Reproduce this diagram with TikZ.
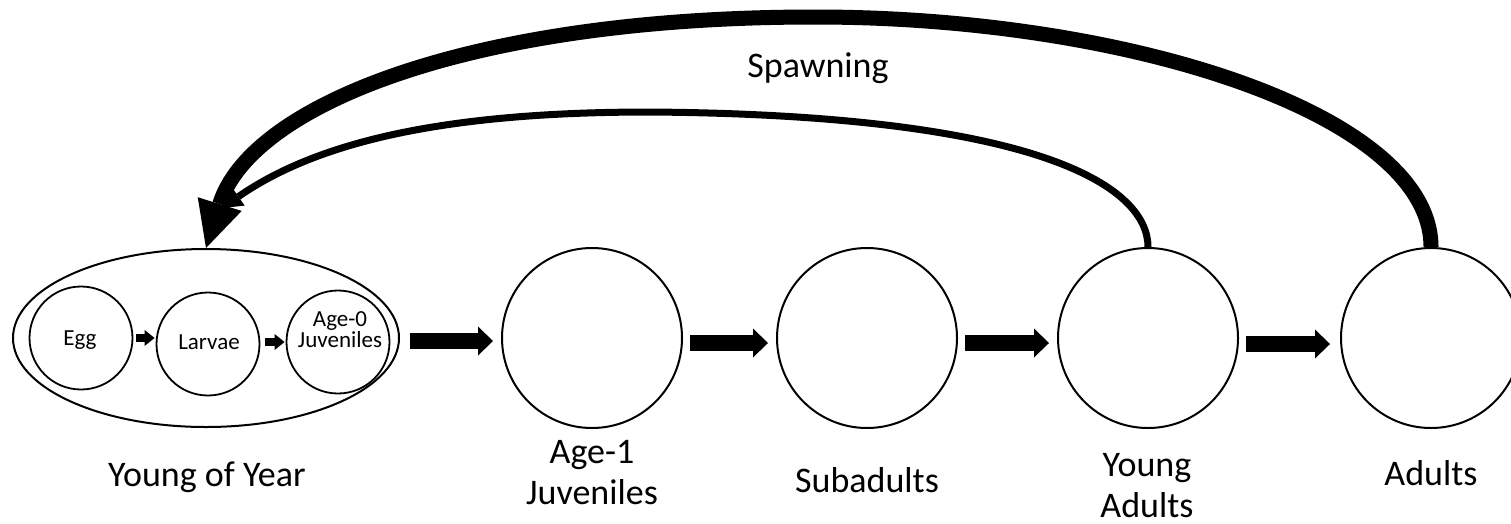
\documentclass[tikz,border=0pt]{standalone}
\usepackage{fontspec}
\setmainfont{Carlito}
\usetikzlibrary{arrows.meta,shapes.geometric}
\begin{document}
\begin{tikzpicture}[x=1pt,y=-1pt,
  stage/.style={circle,draw,line width=2pt,minimum size=180pt,inner sep=0pt},
  substage/.style={circle,draw,line width=1.8pt,minimum size=103pt,inner sep=0pt},
  smalltxt/.style={font=\fontsize{23}{18}\selectfont,align=center,inner sep=0pt,anchor=base},
  lbl/.style={font=\fontsize{36}{41}\selectfont,align=center,inner sep=0pt,anchor=base},
  bigarrow/.style={line width=16pt,-{Triangle[length=15pt,width=29pt,line width=0pt]}},
  smallarrow/.style={line width=8pt,-{Triangle[length=10pt,width=16pt,line width=0pt]}},
  spawnthick/.style={line width=15pt,-{Triangle[length=46pt,width=46pt,line width=0pt]}},
  spawnthin/.style={line width=7pt,-{Triangle[length=20pt,width=22pt,line width=0pt]}}
]
\clip (0,0) rectangle (1511,523);
\fill[white] (0,0) rectangle (1511,523);

% young of year group
\node[ellipse,draw,line width=2pt,minimum width=386pt,minimum height=178pt,inner sep=0pt] (yoy) at (206,338) {};
\node[substage] (egg) at (81,338) {};
\node[substage] (larvae) at (208,344) {};
\node[substage] (age0) at (338,342) {};
\node[smalltxt] (eggtxt) at (80,345) {Egg};
\node[smalltxt] (larvaetxt) at (209,349) {Larvae};
\node[smalltxt] (age0txt) at (340,347) {Age-0\\Juveniles};

\draw[smallarrow,shorten <=3pt,shorten >=1pt] (egg.east) -- (egg.east -| larvae.west);
\draw[smallarrow,shorten <=5pt,shorten >=1pt] (age0.west -| larvae.east) -- (age0.west);

% main stages
\node[stage] (age1) at (592,338) {};
\node[stage] (sub) at (867,338) {};
\node[stage] (ya) at (1148,338) {};
\node[stage] (ad) at (1431,338) {};

\draw[bigarrow,shorten <=10pt,shorten >=8pt] ([yshift=-3pt]yoy.east) -- ([yshift=-3pt]yoy.east -| age1.west);
\draw[bigarrow,shorten <=7pt,shorten >=8pt] ([yshift=-5pt]age1.east) -- ([yshift=-5pt]age1.east -| sub.west);
\draw[bigarrow,shorten <=7pt,shorten >=8pt] ([yshift=-5pt]sub.east) -- ([yshift=-5pt]sub.east -| ya.west);
\draw[bigarrow,shorten <=7pt,shorten >=10pt] ([yshift=-6pt]ya.east) -- ([yshift=-6pt]ya.east -| ad.west);

% labels
\node[lbl] (lyoy) at (207,486) {Young of Year};
\node[lbl] (lage1) at (592,504) {Age-1\\Juveniles};
\node[lbl] (lsub) at (867,492) {Subadults};
\node[lbl] (lya) at (1147,517) {Young\\Adults};
\node[lbl] (lad) at (1431,485) {Adults};
\node[lbl] (lspawn) at (818,77) {Spawning};

% spawning arrows
\coordinate (spawntip) at (222,208);
\draw[spawnthin] (ya.north) .. controls (1148,190) and (1050,115) .. (650,112)
   .. controls (450,112) and (320,140) .. (spawntip);
\draw[spawnthick] (ad.north) .. controls (1431,115) and (1130,17) .. (815,17)
   .. controls (465,17) and (250,107) .. (yoy.north);
\end{tikzpicture}
\end{document}
